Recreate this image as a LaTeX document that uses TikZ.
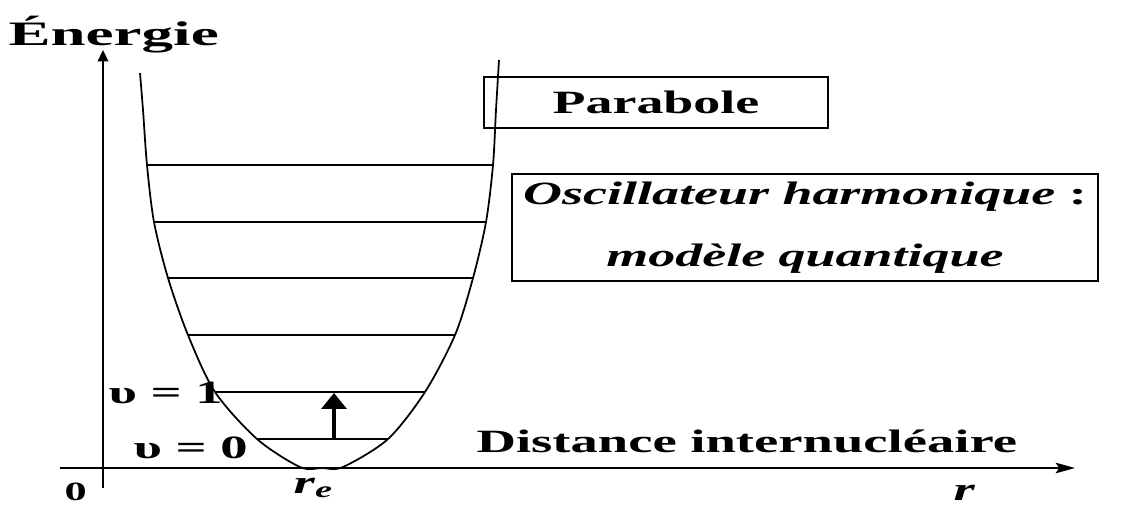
\documentclass[tikz,border=0pt]{standalone}
\usepackage{fontspec}
\setmainfont{Liberation Serif}
\usepackage{tikz}
\usetikzlibrary{arrows.meta, positioning}

\begin{document}
\begin{tikzpicture}[
    x=0.02cm, y=-0.02cm,
    lbl/.style={font=\fontsize{18.5}{35}\selectfont\bfseries, xscale=1.68, inner sep=0pt, anchor=base west},
    frame/.style={draw, line width=1.2pt, xscale=1.66, inner sep=0pt, align=center, font=\fontsize{18.5}{35}\selectfont\bfseries},
    axis/.style={line width=1.1pt},
    level/.style={line width=0.9pt},
    well/.style={line width=1pt},
    jump/.style={-{Triangle[length=9pt, width=14pt]}, line width=2.4pt},
]
\useasboundingbox (0,0) rectangle (1121,508);

% --- Axes ---
\coordinate (ybot) at (103,488);
\coordinate (ytop) at (103,50);
\coordinate (xleft) at (60,468);
\coordinate (xright) at (1075,468);
\draw[axis, -{Triangle[length=6.5pt, width=6pt]}] (ybot) -- (ytop);
\draw[axis, -{Stealth[length=11pt, width=6pt, inset=2pt]}] (xleft) -- (xright);

% --- Potential well ---
\draw[well] plot[smooth] coordinates {(140,73) (143,110) (147,165) (154,222) (168,278) (188,335) (215,392) (257,439) (300,467) (322,468) (343,467) (388,439) (425,392) (455,335) (473,278) (486,222) (493,165) (496,110) (499,60)};

% --- Vibrational levels ---
\foreach \v/\yy/\xl/\xr in {0/439/257/388, 1/392/215/425, 2/335/188/455, 3/278/168/473, 4/222/154/486, 5/165/147/493} {
  \coordinate (lev\v w) at (\xl,\yy);
  \coordinate (lev\v e) at (\xr,\yy);
  \draw[level] (lev\v w) -- (lev\v e);
}

% --- Transition v=0 -> v=1 ---
\coordinate (up0) at (334,439);
\coordinate (up1) at (334,393);
\draw[jump] (up0) -- (up1);

% --- Axis labels ---
\node[lbl, font=\fontsize{19.5}{24}\selectfont\bfseries, xscale=1.84/1.68] (energie) at (8,45) {Énergie};
\node[lbl] (dist) at (476,452) {Distance internucléaire};
\node[lbl] (rlab) at (953,500) {\textit{r}};
\node[lbl] (relab) at (293,493) {\textit{r}\textsubscript{\textit{e}}};
\node[lbl, font=\fontsize{15}{18}\selectfont\bfseries] (zero) at (64,500) {0};
\node[lbl] (v1) at (108,403) {υ = 1};
\node[lbl] (v0) at (133,458) {υ = 0};

% --- Boxes ---
\node[frame, minimum width=4.14cm, minimum height=1.02cm] (parab) at (656,102.5) {Parabole};
\node[frame, minimum width=7.06cm, minimum height=2.14cm] (osc) at (805,227.5) {\textit{Oscillateur harmonique} :\\ \textit{modèle quantique}};

\end{tikzpicture}
\end{document}
